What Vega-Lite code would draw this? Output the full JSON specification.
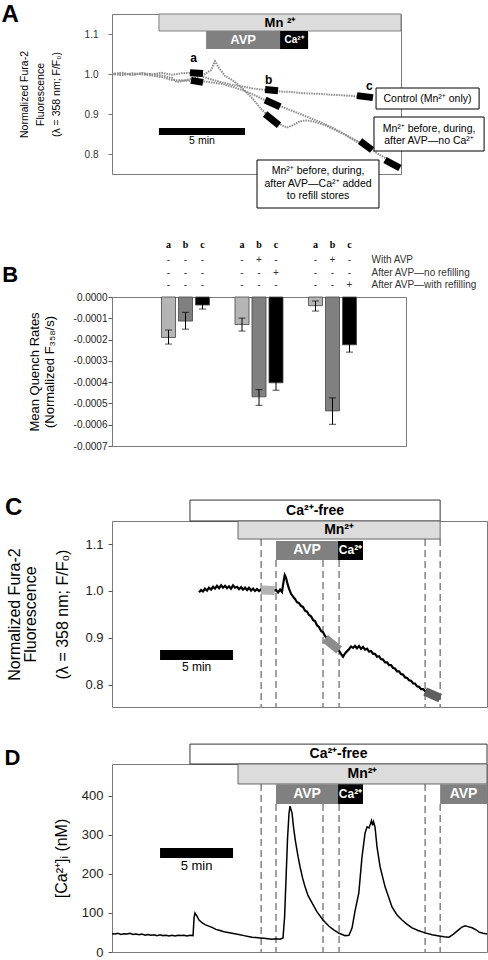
{
"$schema": "https://vega.github.io/schema/vega-lite/v6.json",
"padding": {"top": 2, "left": 0, "right": 0, "bottom": 0},
"config": {"font": "Liberation Sans", "view": {"stroke": "#7a7a7a", "strokeWidth": 1}, "axis": {"grid": false, "labelOverlap": false, "labelBound": false}, "title": {"offset": 0}},
"datasets": {
"trA": [
{"s":"c","t":0,"v":1.0},{"s":"c","t":0.58,"v":1.003},{"s":"c","t":1.16,"v":0.998},{"s":"c","t":1.74,"v":1.002},{"s":"c","t":2.33,"v":0.999},{"s":"c","t":2.91,"v":1.003},{"s":"c","t":3.49,"v":0.998},{"s":"c","t":4.07,"v":1.002},{"s":"c","t":4.65,"v":1.003},{"s":"c","t":5.23,"v":0.994},{"s":"c","t":5.81,"v":0.986},{"s":"c","t":6.4,"v":0.979},{"s":"c","t":6.98,"v":0.973},{"s":"c","t":7.56,"v":0.969},{"s":"c","t":8.14,"v":0.964},{"s":"c","t":8.72,"v":0.961},{"s":"c","t":9.3,"v":0.958},{"s":"c","t":9.88,"v":0.956},{"s":"c","t":10.47,"v":0.955},{"s":"c","t":11.05,"v":0.952},{"s":"c","t":11.63,"v":0.951},{"s":"c","t":12.21,"v":0.95},{"s":"c","t":12.79,"v":0.948},{"s":"c","t":13.37,"v":0.947},{"s":"c","t":13.95,"v":0.945},{"s":"c","t":14.53,"v":0.943},{"s":"c","t":15.12,"v":0.942},
{"s":"n","t":0,"v":1.0},{"s":"n","t":0.58,"v":0.997},{"s":"n","t":1.16,"v":1.002},{"s":"n","t":1.74,"v":0.999},{"s":"n","t":2.33,"v":0.996},{"s":"n","t":2.91,"v":0.992},{"s":"n","t":3.49,"v":0.985},{"s":"n","t":4.07,"v":0.984},{"s":"n","t":4.65,"v":0.983},{"s":"n","t":5.23,"v":0.982},{"s":"n","t":5.81,"v":0.979},{"s":"n","t":6.4,"v":0.975},{"s":"n","t":6.98,"v":0.968},{"s":"n","t":7.56,"v":0.96},{"s":"n","t":8.14,"v":0.95},{"s":"n","t":8.72,"v":0.938},{"s":"n","t":9.3,"v":0.928},{"s":"n","t":9.88,"v":0.918},{"s":"n","t":10.47,"v":0.908},{"s":"n","t":11.05,"v":0.898},{"s":"n","t":11.63,"v":0.888},{"s":"n","t":12.21,"v":0.878},{"s":"n","t":12.79,"v":0.866},{"s":"n","t":13.37,"v":0.853},{"s":"n","t":13.95,"v":0.838},{"s":"n","t":14.53,"v":0.823},{"s":"n","t":14.94,"v":0.812},
{"s":"r","t":0,"v":1.0},{"s":"r","t":0.58,"v":1.001},{"s":"r","t":1.16,"v":0.998},{"s":"r","t":1.74,"v":1.002},{"s":"r","t":2.33,"v":0.999},{"s":"r","t":2.91,"v":0.996},{"s":"r","t":3.49,"v":0.99},{"s":"r","t":3.78,"v":0.98},{"s":"r","t":4.36,"v":0.985},{"s":"r","t":4.94,"v":0.992},{"s":"r","t":5.41,"v":1.0},{"s":"r","t":5.76,"v":1.01},{"s":"r","t":5.99,"v":1.032},{"s":"r","t":6.22,"v":1.015},{"s":"r","t":6.57,"v":0.995},{"s":"r","t":6.98,"v":0.985},{"s":"r","t":7.56,"v":0.965},{"s":"r","t":8.14,"v":0.94},{"s":"r","t":8.72,"v":0.91},{"s":"r","t":9.3,"v":0.887},{"s":"r","t":9.77,"v":0.874},{"s":"r","t":10.17,"v":0.866},{"s":"r","t":10.52,"v":0.872},{"s":"r","t":10.93,"v":0.882},{"s":"r","t":11.34,"v":0.884},{"s":"r","t":11.8,"v":0.88},{"s":"r","t":12.38,"v":0.872},{"s":"r","t":13.08,"v":0.858},{"s":"r","t":13.78,"v":0.843},{"s":"r","t":14.53,"v":0.826},{"s":"r","t":15.29,"v":0.805},{"s":"r","t":15.99,"v":0.787},{"s":"r","t":16.57,"v":0.772}
],
"mkA": [
{"m":"a1","t":4.53,"v":1.003},{"m":"a1","t":5.29,"v":1.001},
{"m":"a2","t":4.59,"v":0.984},{"m":"a2","t":5.29,"v":0.979},
{"m":"b1","t":8.9,"v":0.961},{"m":"b1","t":9.65,"v":0.958},
{"m":"b2","t":8.9,"v":0.935},{"m":"b2","t":9.77,"v":0.918},
{"m":"b3","t":8.9,"v":0.9},{"m":"b3","t":9.71,"v":0.872},
{"m":"c1","t":14.24,"v":0.946},{"m":"c1","t":15.17,"v":0.941},
{"m":"c2","t":14.42,"v":0.832},{"m":"c2","t":15.12,"v":0.81},
{"m":"c3","t":15.87,"v":0.785},{"m":"c3","t":16.74,"v":0.765}
],
"lettersA": [{"lab":"a","t":4.75,"v":1.041},{"lab":"b","t":9.11,"v":0.985},{"lab":"c","t":14.96,"v":0.97}],
"boxA": [{"t0":15.35,"t1":21.34,"v0":0.9125,"v1":0.965},{"t0":15.23,"t1":21.63,"v0":0.8075,"v1":0.8925},{"t0":8.43,"t1":15.52,"v0":0.665,"v1":0.785}],
"boxTextA": [{"t":18.34,"v":0.9375,"text":"Control (Mn²⁺ only)"},{"t":18.43,"v":0.8625,"text":"Mn²⁺ before, during,"},{"t":18.43,"v":0.8325,"text":"after AVP—no Ca²⁺"},{"t":11.98,"v":0.7575,"text":"Mn²⁺ before, during,"},{"t":11.98,"v":0.725,"text":"after AVP—Ca²⁺ added"},{"t":11.98,"v":0.695,"text":"to refill stores"}],
"barsA": [{"kind":"mn","label":"Mn ²⁺","t0":2.73,"t1":16.8,"v0":1.1075,"v1":1.15},{"kind":"avp","label":"AVP","t0":5.47,"t1":9.77,"v0":1.0625,"v1":1.1075},{"kind":"ca","label":"Ca²⁺","t0":9.77,"t1":11.4,"v0":1.0625,"v1":1.1075}],
"scaleA": [{"t0":2.73,"t1":7.73,"v0":0.8475,"v1":0.865,"tm":5.23,"vt":0.8325,"text":"5 min"}],
"barsB": [
{"g":"1","bar":"a","v":-0.00019,"lo":-0.000221,"hi":-0.000155},
{"g":"1","bar":"b","v":-0.000113,"lo":-0.000151,"hi":-0.000072},
{"g":"1","bar":"c","v":-0.0000377,"lo":-0.0000565,"hi":-0.000019},
{"g":"2","bar":"a","v":-0.000129,"lo":-0.00016,"hi":-0.000099},
{"g":"2","bar":"b","v":-0.000469,"lo":-0.000509,"hi":-0.000435},
{"g":"2","bar":"c","v":-0.000403,"lo":-0.000438,"hi":-0.00037},
{"g":"3","bar":"a","v":-0.0000408,"lo":-0.000066,"hi":-0.000019},
{"g":"3","bar":"b","v":-0.000535,"lo":-0.000598,"hi":-0.000474},
{"g":"3","bar":"c","v":-0.0002245,"lo":-0.000259,"hi":-0.00019}
],
"hdrB": [
{"r":0,"g":"1","bar":"a","s":"a"},{"r":0,"g":"1","bar":"b","s":"b"},{"r":0,"g":"1","bar":"c","s":"c"},
{"r":0,"g":"2","bar":"a","s":"a"},{"r":0,"g":"2","bar":"b","s":"b"},{"r":0,"g":"2","bar":"c","s":"c"},
{"r":0,"g":"3","bar":"a","s":"a"},{"r":0,"g":"3","bar":"b","s":"b"},{"r":0,"g":"3","bar":"c","s":"c"},
{"r":1,"g":"1","bar":"a","s":"-"},{"r":1,"g":"1","bar":"b","s":"-"},{"r":1,"g":"1","bar":"c","s":"-"},
{"r":1,"g":"2","bar":"a","s":"-"},{"r":1,"g":"2","bar":"b","s":"+"},{"r":1,"g":"2","bar":"c","s":"-"},
{"r":1,"g":"3","bar":"a","s":"-"},{"r":1,"g":"3","bar":"b","s":"+"},{"r":1,"g":"3","bar":"c","s":"-"},
{"r":2,"g":"1","bar":"a","s":"-"},{"r":2,"g":"1","bar":"b","s":"-"},{"r":2,"g":"1","bar":"c","s":"-"},
{"r":2,"g":"2","bar":"a","s":"-"},{"r":2,"g":"2","bar":"b","s":"-"},{"r":2,"g":"2","bar":"c","s":"+"},
{"r":2,"g":"3","bar":"a","s":"-"},{"r":2,"g":"3","bar":"b","s":"-"},{"r":2,"g":"3","bar":"c","s":"-"},
{"r":3,"g":"1","bar":"a","s":"-"},{"r":3,"g":"1","bar":"b","s":"-"},{"r":3,"g":"1","bar":"c","s":"-"},
{"r":3,"g":"2","bar":"a","s":"-"},{"r":3,"g":"2","bar":"b","s":"-"},{"r":3,"g":"2","bar":"c","s":"-"},
{"r":3,"g":"3","bar":"a","s":"-"},{"r":3,"g":"3","bar":"b","s":"-"},{"r":3,"g":"3","bar":"c","s":"+"}
],
"rowLabB": [{"r":1,"g":"3","bar":"c","s":"With AVP"},{"r":2,"g":"3","bar":"c","s":"After AVP—no refilling"},{"r":3,"g":"3","bar":"c","s":"After AVP—with refilling"}],
"barsC": [{"kind":"free","label":"Ca²⁺-free","t0":5.34,"t1":22.47,"v0":1.149,"v1":1.1936},{"kind":"mn","label":"Mn²⁺","t0":8.63,"t1":22.47,"v0":1.1106,"v1":1.149},{"kind":"avp","label":"AVP","t0":11.23,"t1":15.48,"v0":1.066,"v1":1.1064},{"kind":"ca","label":"Ca²⁺","t0":15.48,"t1":17.19,"v0":1.066,"v1":1.1064}],
"dashC": [{"t":10.21,"top":1.1106},{"t":11.23,"top":1.066},{"t":14.45,"top":1.066},{"t":15.55,"top":1.066},{"t":21.44,"top":1.1106},{"t":22.47,"top":1.1106}],
"trC": [
{"t":5.96,"v":0.997},{"t":6.1,"v":1.002},{"t":6.23,"v":0.999},{"t":6.37,"v":1.005},{"t":6.51,"v":1.001},{"t":6.64,"v":1.007},{"t":6.78,"v":1.003},{"t":6.92,"v":1.009},{"t":7.05,"v":1.005},{"t":7.19,"v":1.011},{"t":7.33,"v":1.006},{"t":7.47,"v":1.012},{"t":7.6,"v":1.007},{"t":7.74,"v":1.011},{"t":7.88,"v":1.006},{"t":8.01,"v":1.01},{"t":8.15,"v":1.005},{"t":8.29,"v":1.012},{"t":8.42,"v":1.007},{"t":8.56,"v":1.009},{"t":8.7,"v":1.004},{"t":8.84,"v":1.008},{"t":8.97,"v":1.003},{"t":9.11,"v":1.007},{"t":9.25,"v":1.002},{"t":9.38,"v":1.007},{"t":9.52,"v":1.001},{"t":9.66,"v":1.005},{"t":9.79,"v":1.0},{"t":9.93,"v":1.004},{"t":10.07,"v":1.0},{"t":10.21,"v":1.003},{"t":10.41,"v":1.002},{"t":10.62,"v":1.001},{"t":10.82,"v":1.002},{"t":11.03,"v":1.001},{"t":11.23,"v":1.002},{"t":11.37,"v":0.997},{"t":11.51,"v":1.003},{"t":11.64,"v":0.998},{"t":11.75,"v":1.02},{"t":11.83,"v":1.034},{"t":11.92,"v":1.028},{"t":12.02,"v":1.015},{"t":12.12,"v":1.005},{"t":12.26,"v":0.994},{"t":12.4,"v":0.988},{"t":12.53,"v":0.983},{"t":12.67,"v":0.976},{"t":12.81,"v":0.974},{"t":12.95,"v":0.968},{"t":13.08,"v":0.966},{"t":13.22,"v":0.958},{"t":13.36,"v":0.956},{"t":13.49,"v":0.949},{"t":13.63,"v":0.946},{"t":13.77,"v":0.938},{"t":13.9,"v":0.936},{"t":14.04,"v":0.927},{"t":14.18,"v":0.923},{"t":14.32,"v":0.915},{"t":14.45,"v":0.912},{"t":14.59,"v":0.904},{"t":14.79,"v":0.897},{"t":15.07,"v":0.888},{"t":15.34,"v":0.88},{"t":15.55,"v":0.873},{"t":15.68,"v":0.866},{"t":15.82,"v":0.86},{"t":15.96,"v":0.867},{"t":16.1,"v":0.872},{"t":16.23,"v":0.876},{"t":16.37,"v":0.882},{"t":16.51,"v":0.879},{"t":16.64,"v":0.883},{"t":16.78,"v":0.878},{"t":16.92,"v":0.883},{"t":17.05,"v":0.877},{"t":17.19,"v":0.881},{"t":17.33,"v":0.875},{"t":17.47,"v":0.877},{"t":17.6,"v":0.871},{"t":17.74,"v":0.872},{"t":17.88,"v":0.866},{"t":18.01,"v":0.866},{"t":18.15,"v":0.86},{"t":18.29,"v":0.861},{"t":18.42,"v":0.855},{"t":18.56,"v":0.854},{"t":18.7,"v":0.848},{"t":18.84,"v":0.848},{"t":18.97,"v":0.842},{"t":19.11,"v":0.842},{"t":19.25,"v":0.836},{"t":19.38,"v":0.835},{"t":19.52,"v":0.829},{"t":19.66,"v":0.829},{"t":19.79,"v":0.823},{"t":19.93,"v":0.822},{"t":20.07,"v":0.816},{"t":20.21,"v":0.815},{"t":20.34,"v":0.81},{"t":20.48,"v":0.809},{"t":20.62,"v":0.803},{"t":20.75,"v":0.803},{"t":20.89,"v":0.797},{"t":21.03,"v":0.796},{"t":21.16,"v":0.791},{"t":21.3,"v":0.791},{"t":21.44,"v":0.787},{"t":21.78,"v":0.781},{"t":22.12,"v":0.776},{"t":22.47,"v":0.771}
],
"mkC": [{"m":"a","t":10.21,"v":1.002},{"m":"a","t":11.14,"v":1.001},{"m":"b","t":14.59,"v":0.899},{"m":"b","t":15.55,"v":0.8745},{"m":"c","t":21.44,"v":0.786},{"m":"c","t":22.47,"v":0.772}],
"scaleC": [{"t0":3.29,"t1":8.29,"v0":0.853,"v1":0.8745,"tm":5.79,"vt":0.838,"text":"5 min"}],
"barsD": [{"kind":"free","label":"Ca²⁺-free","t0":5.34,"t1":25.68,"v0":482,"v1":533},{"kind":"mn","label":"Mn²⁺","t0":8.63,"t1":25.68,"v0":430.8,"v1":482},{"kind":"avp","label":"AVP","t0":11.23,"t1":15.48,"v0":379.5,"v1":430},{"kind":"ca","label":"Ca²⁺","t0":15.48,"t1":17.19,"v0":379.5,"v1":430},{"kind":"avp","label":"AVP","t0":22.47,"t1":25.68,"v0":379.5,"v1":430}],
"dashD": [{"t":10.21,"top":430.8},{"t":11.23,"top":379.5},{"t":14.45,"top":379.5},{"t":15.55,"top":379.5},{"t":21.44,"top":430.8},{"t":22.47,"top":379.5}],
"trD": [
{"t":0,"v":47},{"t":0.21,"v":46},{"t":0.41,"v":48},{"t":0.62,"v":45},{"t":0.82,"v":47},{"t":1.03,"v":46},{"t":1.23,"v":48},{"t":1.44,"v":45},{"t":1.64,"v":46},{"t":1.85,"v":44},{"t":2.05,"v":46},{"t":2.26,"v":43},{"t":2.47,"v":45},{"t":2.67,"v":43},{"t":2.88,"v":44},{"t":3.08,"v":42},{"t":3.29,"v":44},{"t":3.49,"v":42},{"t":3.7,"v":43},{"t":3.9,"v":41},{"t":4.11,"v":43},{"t":4.32,"v":41},{"t":4.52,"v":43},{"t":4.73,"v":42},{"t":4.93,"v":43},{"t":5.14,"v":41},{"t":5.34,"v":43},{"t":5.55,"v":42},{"t":5.62,"v":88},{"t":5.68,"v":100},{"t":5.82,"v":92},{"t":5.96,"v":82},{"t":6.16,"v":75},{"t":6.37,"v":70},{"t":6.58,"v":67},{"t":6.85,"v":63},{"t":7.12,"v":58},{"t":7.4,"v":55},{"t":7.67,"v":52},{"t":7.95,"v":50},{"t":8.22,"v":48},{"t":8.49,"v":46},{"t":8.77,"v":44},{"t":9.04,"v":42},{"t":9.32,"v":40},{"t":9.59,"v":38},{"t":9.86,"v":37},{"t":10.14,"v":36},{"t":10.41,"v":35},{"t":10.68,"v":34},{"t":10.96,"v":33},{"t":11.23,"v":34},{"t":11.51,"v":33},{"t":11.71,"v":36},{"t":11.82,"v":90},{"t":11.92,"v":190},{"t":12.02,"v":290},{"t":12.12,"v":355},{"t":12.19,"v":374},{"t":12.26,"v":365},{"t":12.33,"v":356},{"t":12.43,"v":320},{"t":12.55,"v":287},{"t":12.74,"v":245},{"t":12.88,"v":218},{"t":13.05,"v":190},{"t":13.22,"v":167},{"t":13.42,"v":145},{"t":13.7,"v":126},{"t":14.04,"v":103},{"t":14.45,"v":82},{"t":14.86,"v":66},{"t":15.21,"v":56},{"t":15.55,"v":48},{"t":15.96,"v":42},{"t":16.23,"v":43},{"t":16.44,"v":62},{"t":16.64,"v":105},{"t":16.9,"v":151},{"t":17.12,"v":244},{"t":17.33,"v":305},{"t":17.47,"v":321},{"t":17.6,"v":318},{"t":17.71,"v":330},{"t":17.77,"v":337},{"t":17.84,"v":325},{"t":17.91,"v":334},{"t":18.01,"v":321},{"t":18.15,"v":269},{"t":18.36,"v":218},{"t":18.7,"v":167},{"t":19.18,"v":115},{"t":19.52,"v":95},{"t":19.86,"v":82},{"t":20.21,"v":71},{"t":20.55,"v":62},{"t":20.96,"v":55},{"t":21.44,"v":49},{"t":21.92,"v":44},{"t":22.4,"v":41},{"t":22.74,"v":39},{"t":23.08,"v":38},{"t":23.29,"v":43},{"t":23.49,"v":49},{"t":23.77,"v":58},{"t":23.97,"v":64},{"t":24.18,"v":67},{"t":24.38,"v":65},{"t":24.66,"v":62},{"t":24.93,"v":57},{"t":25.14,"v":51},{"t":25.41,"v":48},{"t":25.68,"v":46}
],
"scaleD": [{"t0":3.29,"t1":8.29,"v0":241,"v1":266.7,"tm":5.79,"vt":220.5,"text":"5 min"}]
},
"spacing": 43,
"align": "none",
"vconcat": [
{"spacing": 30, "align": "none", "vconcat": [
{
"width": 289, "height": 160,
"title": {"text": "A", "orient": "left", "anchor": "end", "angle": 0, "align": "right", "frame": "bounds", "fontSize": 24, "fontWeight": "bold", "baseline": "top", "dy": -11, "offset": -17},
"layer": [
{"data": {"name": "trA"}, "mark": {"type": "line", "strokeWidth": 2, "color": "#8c8c8c", "strokeDash": [1.5, 1]},
 "encoding": {"x": {"field": "t", "type": "quantitative", "scale": {"domain": [0, 16.8], "nice": false, "zero": false}, "axis": null},
 "y": {"field": "v", "type": "quantitative", "scale": {"domain": [0.75, 1.15], "nice": false, "zero": false},
  "axis": {"values": [0.8, 0.9, 1.0, 1.1], "tickCount": 10, "format": ".1f", "domain": false, "tickSize": 4, "tickColor": "#777", "labelFontSize": 10, "labelColor": "#333", "labelPadding": 10, "title": ["Normalized Fura-2", "Fluorescence", "(λ = 358 nm; F/F₀)"], "titleFontSize": 10.5, "titleFontWeight": "normal", "titleLineHeight": 16, "titlePadding": 23}},
 "detail": {"field": "s"}}},
{"data": {"name": "mkA"}, "mark": {"type": "line", "strokeWidth": 7, "color": "#000", "strokeCap": "butt"},
 "encoding": {"x": {"field": "t", "type": "quantitative"}, "y": {"field": "v", "type": "quantitative"}, "detail": {"field": "m"}}},
{"data": {"name": "lettersA"}, "mark": {"type": "text", "fontSize": 12, "fontWeight": "bold", "baseline": "middle"},
 "encoding": {"x": {"field": "t", "type": "quantitative"}, "y": {"field": "v", "type": "quantitative"}, "text": {"field": "lab"}}},
{"data": {"name": "boxA"}, "mark": {"type": "rect", "fill": "white", "stroke": "#000", "strokeWidth": 1},
 "encoding": {"x": {"field": "t0", "type": "quantitative"}, "x2": {"field": "t1"}, "y": {"field": "v0", "type": "quantitative"}, "y2": {"field": "v1"}}},
{"data": {"name": "boxTextA"}, "mark": {"type": "text", "fontSize": 10.5, "baseline": "middle"},
 "encoding": {"x": {"field": "t", "type": "quantitative"}, "y": {"field": "v", "type": "quantitative"}, "text": {"field": "text"}}},
{"data": {"name": "barsA"}, "mark": {"type": "rect", "strokeWidth": 1},
 "encoding": {"x": {"field": "t0", "type": "quantitative"}, "x2": {"field": "t1"}, "y": {"field": "v0", "type": "quantitative"}, "y2": {"field": "v1"},
 "fill": {"condition": [{"test": "datum.kind==='mn'", "value": "#dcdcdc"}, {"test": "datum.kind==='avp'", "value": "#808080"}], "value": "#000"},
 "stroke": {"condition": {"test": "datum.kind==='mn'", "value": "#808080"}, "value": null}}},
{"data": {"name": "barsA"}, "transform": [{"calculate": "(datum.t0+datum.t1)/2", "as": "tm"}, {"calculate": "(datum.v0+datum.v1)/2", "as": "vm"}],
 "mark": {"type": "text", "fontWeight": "bold", "baseline": "middle"},
 "encoding": {"x": {"field": "tm", "type": "quantitative"}, "y": {"field": "vm", "type": "quantitative"}, "text": {"field": "label"},
 "size": {"condition": {"test": "datum.kind==='ca'", "value": 10}, "value": 13},
 "color": {"condition": {"test": "datum.kind==='mn'", "value": "#000"}, "value": "#fff"}}},
{"data": {"name": "scaleA"}, "mark": {"type": "rect", "fill": "#000"},
 "encoding": {"x": {"field": "t0", "type": "quantitative"}, "x2": {"field": "t1"}, "y": {"field": "v0", "type": "quantitative"}, "y2": {"field": "v1"}}},
{"data": {"name": "scaleA"}, "mark": {"type": "text", "fontSize": 10.5, "baseline": "middle"},
 "encoding": {"x": {"field": "tm", "type": "quantitative"}, "y": {"field": "vt", "type": "quantitative"}, "text": {"field": "text"}}}
]
},
{
"width": 294, "height": 149,
"title": {"text": "B", "orient": "left", "anchor": "end", "angle": 0, "align": "right", "frame": "bounds", "fontSize": 22, "fontWeight": "bold", "baseline": "top", "dy": 25, "offset": -6},
"layer": [
{"data": {"name": "barsB"}, "mark": {"type": "bar", "stroke": "#444", "strokeWidth": 0.8},
 "encoding": {"x": {"field": "g", "type": "nominal", "scale": {"domain": ["1", "2", "3"], "paddingInner": 0, "paddingOuter": 0.5}, "axis": null},
 "xOffset": {"field": "bar", "type": "nominal", "scale": {"domain": ["a", "b", "c"], "paddingInner": 0.176, "paddingOuter": 0.75}},
 "y": {"field": "v", "type": "quantitative", "scale": {"domain": [-0.0007, 0], "nice": false, "zero": false},
  "axis": {"values": [0, -0.0001, -0.0002, -0.0003, -0.0004, -0.0005, -0.0006, -0.0007], "tickCount": 10, "labelExpr": "replace(format(datum.value, '.4f'), '−', '-')", "labelOverlap": false, "domain": false, "tickSize": 4, "tickColor": "#555", "labelFontSize": 10, "labelColor": "#222", "labelPadding": 1, "title": ["Mean Quench Rates", "(Normalized F₃₅₈/s)"], "titleFontSize": 13, "titleFontWeight": "normal", "titleLineHeight": 15, "titlePadding": 17}},
 "fill": {"condition": [{"test": "datum.bar==='a'", "value": "#b5b5b5"}, {"test": "datum.bar==='b'", "value": "#808080"}], "value": "#000"}}},
{"data": {"name": "barsB"}, "mark": {"type": "rule", "color": "#000", "strokeWidth": 1},
 "encoding": {"x": {"field": "g", "type": "nominal"}, "xOffset": {"field": "bar", "type": "nominal"}, "y": {"field": "lo", "type": "quantitative"}, "y2": {"field": "hi"}}},
{"data": {"name": "barsB"}, "mark": {"type": "tick", "orient": "horizontal", "size": 7, "thickness": 1, "color": "#000"},
 "encoding": {"x": {"field": "g", "type": "nominal"}, "xOffset": {"field": "bar", "type": "nominal"}, "y": {"field": "lo", "type": "quantitative"}}},
{"data": {"name": "barsB"}, "mark": {"type": "tick", "orient": "horizontal", "size": 7, "thickness": 1, "color": "#000"},
 "encoding": {"x": {"field": "g", "type": "nominal"}, "xOffset": {"field": "bar", "type": "nominal"}, "y": {"field": "hi", "type": "quantitative"}}},
{"data": {"name": "hdrB"}, "transform": [{"filter": "datum.r===0"}], "mark": {"type": "text", "font": "Liberation Serif", "fontWeight": "bold", "fontSize": 10, "baseline": "middle"},
 "encoding": {"x": {"field": "g", "type": "nominal"}, "xOffset": {"field": "bar", "type": "nominal"}, "y": {"datum": 0.000244, "type": "quantitative"}, "text": {"field": "s"}}},
{"data": {"name": "hdrB"}, "transform": [{"filter": "datum.r===1"}], "mark": {"type": "text", "fontSize": 10, "baseline": "middle", "color": "#333"},
 "encoding": {"x": {"field": "g", "type": "nominal"}, "xOffset": {"field": "bar", "type": "nominal"}, "y": {"datum": 0.000174, "type": "quantitative"}, "text": {"field": "s"}}},
{"data": {"name": "hdrB"}, "transform": [{"filter": "datum.r===2"}], "mark": {"type": "text", "fontSize": 10, "baseline": "middle", "color": "#333"},
 "encoding": {"x": {"field": "g", "type": "nominal"}, "xOffset": {"field": "bar", "type": "nominal"}, "y": {"datum": 0.000113, "type": "quantitative"}, "text": {"field": "s"}}},
{"data": {"name": "hdrB"}, "transform": [{"filter": "datum.r===3"}], "mark": {"type": "text", "fontSize": 10, "baseline": "middle", "color": "#333"},
 "encoding": {"x": {"field": "g", "type": "nominal"}, "xOffset": {"field": "bar", "type": "nominal"}, "y": {"datum": 0.000056, "type": "quantitative"}, "text": {"field": "s"}}},
{"data": {"name": "rowLabB"}, "transform": [{"filter": "datum.r===1"}], "mark": {"type": "text", "fontSize": 10, "baseline": "middle", "align": "left", "dx": 22, "color": "#333"},
 "encoding": {"x": {"field": "g", "type": "nominal"}, "xOffset": {"field": "bar", "type": "nominal"}, "y": {"datum": 0.000174, "type": "quantitative"}, "text": {"field": "s"}}},
{"data": {"name": "rowLabB"}, "transform": [{"filter": "datum.r===2"}], "mark": {"type": "text", "fontSize": 10, "baseline": "middle", "align": "left", "dx": 22, "color": "#333"},
 "encoding": {"x": {"field": "g", "type": "nominal"}, "xOffset": {"field": "bar", "type": "nominal"}, "y": {"datum": 0.000113, "type": "quantitative"}, "text": {"field": "s"}}},
{"data": {"name": "rowLabB"}, "transform": [{"filter": "datum.r===3"}], "mark": {"type": "text", "fontSize": 10, "baseline": "middle", "align": "left", "dx": 22, "color": "#333"},
 "encoding": {"x": {"field": "g", "type": "nominal"}, "xOffset": {"field": "bar", "type": "nominal"}, "y": {"datum": 0.000056, "type": "quantitative"}, "text": {"field": "s"}}}
]
}
]},
{"spacing": 26, "vconcat": [
{
"width": 375, "height": 186,
"title": {"text": "C", "orient": "top", "anchor": "start", "frame": "bounds", "fontSize": 24, "fontWeight": "bold", "baseline": "top", "dx": -2, "dy": 20, "offset": 0},
"layer": [
{"data": {"name": "barsC"}, "mark": {"type": "rect", "strokeWidth": 1},
 "encoding": {"x": {"field": "t0", "type": "quantitative", "scale": {"domain": [0, 25.68], "nice": false, "zero": false}, "axis": null}, "x2": {"field": "t1"},
 "y": {"field": "v0", "type": "quantitative", "scale": {"domain": [0.753, 1.149], "nice": false, "zero": false},
  "axis": {"values": [0.8, 0.9, 1.0, 1.1], "tickCount": 10, "format": ".1f", "domain": false, "tickSize": 4, "tickColor": "#555", "labelFontSize": 13, "labelColor": "#222", "labelPadding": 5, "title": ["Normalized Fura-2", "Fluorescence", "\u2800", "(λ = 358 nm; F/F₀)"], "titleFontSize": 16, "titleFontWeight": "normal", "titleLineHeight": 16, "titlePadding": 14}},
 "y2": {"field": "v1"},
 "fill": {"condition": [{"test": "datum.kind==='mn'", "value": "#dcdcdc"}, {"test": "datum.kind==='avp'", "value": "#808080"}, {"test": "datum.kind==='free'", "value": "#ffffff"}], "value": "#000"},
 "stroke": {"condition": [{"test": "datum.kind==='mn'", "value": "#666"}, {"test": "datum.kind==='free'", "value": "#333"}], "value": null}}},
{"data": {"name": "barsC"}, "transform": [{"calculate": "(datum.t0+datum.t1)/2", "as": "tm"}, {"calculate": "(datum.v0+datum.v1)/2", "as": "vm"}],
 "mark": {"type": "text", "fontWeight": "bold", "baseline": "middle"},
 "encoding": {"x": {"field": "tm", "type": "quantitative"}, "y": {"field": "vm", "type": "quantitative"}, "text": {"field": "label"},
 "size": {"condition": {"test": "datum.kind==='ca'", "value": 12}, "value": 14},
 "color": {"condition": {"test": "datum.kind==='mn' || datum.kind==='free'", "value": "#000"}, "value": "#fff"}}},
{"data": {"name": "dashC"}, "mark": {"type": "rule", "color": "#444", "strokeWidth": 1, "strokeDash": [7, 4]},
 "encoding": {"x": {"field": "t", "type": "quantitative"}, "y": {"field": "top", "type": "quantitative"}, "y2": {"datum": 0.753}}},
{"data": {"name": "trC"}, "mark": {"type": "line", "strokeWidth": 2.2, "color": "#000"},
 "encoding": {"x": {"field": "t", "type": "quantitative"}, "y": {"field": "v", "type": "quantitative"}}},
{"data": {"name": "mkC"}, "mark": {"type": "line", "strokeWidth": 9, "strokeCap": "butt"},
 "encoding": {"x": {"field": "t", "type": "quantitative"}, "y": {"field": "v", "type": "quantitative"}, "detail": {"field": "m"},
 "color": {"condition": [{"test": "datum.m==='a'", "value": "#b3b3b3"}, {"test": "datum.m==='b'", "value": "#8c8c8c"}], "value": "#5e5e5e"}}},
{"data": {"name": "scaleC"}, "mark": {"type": "rect", "fill": "#000"},
 "encoding": {"x": {"field": "t0", "type": "quantitative"}, "x2": {"field": "t1"}, "y": {"field": "v0", "type": "quantitative"}, "y2": {"field": "v1"}}},
{"data": {"name": "scaleC"}, "mark": {"type": "text", "fontSize": 12, "baseline": "middle"},
 "encoding": {"x": {"field": "tm", "type": "quantitative"}, "y": {"field": "vt", "type": "quantitative"}, "text": {"field": "text"}}}
]
},
{
"width": 375, "height": 188,
"title": {"text": "D", "orient": "left", "anchor": "end", "angle": 0, "align": "right", "frame": "bounds", "fontSize": 22, "fontWeight": "bold", "baseline": "top", "dy": 4, "offset": 17},
"layer": [
{"data": {"name": "barsD"}, "mark": {"type": "rect", "strokeWidth": 1},
 "encoding": {"x": {"field": "t0", "type": "quantitative", "scale": {"domain": [0, 25.68], "nice": false, "zero": false}, "axis": null}, "x2": {"field": "t1"},
 "y": {"field": "v0", "type": "quantitative", "scale": {"domain": [0, 482], "nice": false, "zero": false},
  "axis": {"values": [0, 100, 200, 300, 400], "tickCount": 10, "domain": false, "tickSize": 4, "tickColor": "#555", "labelFontSize": 13, "labelColor": "#222", "labelPadding": 5, "title": "[Ca²⁺]ᵢ (nM)", "titleFontSize": 16, "titleFontWeight": "normal", "titlePadding": 12}},
 "y2": {"field": "v1"},
 "fill": {"condition": [{"test": "datum.kind==='mn'", "value": "#dcdcdc"}, {"test": "datum.kind==='avp'", "value": "#808080"}, {"test": "datum.kind==='free'", "value": "#ffffff"}], "value": "#000"},
 "stroke": {"condition": [{"test": "datum.kind==='mn'", "value": "#666"}, {"test": "datum.kind==='free'", "value": "#333"}], "value": null}}},
{"data": {"name": "barsD"}, "transform": [{"calculate": "(datum.t0+datum.t1)/2", "as": "tm"}, {"calculate": "(datum.v0+datum.v1)/2", "as": "vm"}],
 "mark": {"type": "text", "fontWeight": "bold", "baseline": "middle"},
 "encoding": {"x": {"field": "tm", "type": "quantitative"}, "y": {"field": "vm", "type": "quantitative"}, "text": {"field": "label"},
 "size": {"condition": {"test": "datum.kind==='ca'", "value": 12}, "value": 14},
 "color": {"condition": {"test": "datum.kind==='mn' || datum.kind==='free'", "value": "#000"}, "value": "#fff"}}},
{"data": {"name": "dashD"}, "mark": {"type": "rule", "color": "#444", "strokeWidth": 1, "strokeDash": [7, 4]},
 "encoding": {"x": {"field": "t", "type": "quantitative"}, "y": {"field": "top", "type": "quantitative"}, "y2": {"datum": 0}}},
{"data": {"name": "trD"}, "mark": {"type": "line", "strokeWidth": 1.5, "color": "#000"},
 "encoding": {"x": {"field": "t", "type": "quantitative"}, "y": {"field": "v", "type": "quantitative"}}},
{"data": {"name": "scaleD"}, "mark": {"type": "rect", "fill": "#000"},
 "encoding": {"x": {"field": "t0", "type": "quantitative"}, "x2": {"field": "t1"}, "y": {"field": "v0", "type": "quantitative"}, "y2": {"field": "v1"}}},
{"data": {"name": "scaleD"}, "mark": {"type": "text", "fontSize": 13, "baseline": "middle"},
 "encoding": {"x": {"field": "tm", "type": "quantitative"}, "y": {"field": "vt", "type": "quantitative"}, "text": {"field": "text"}}}
]
}
]}
]
}
